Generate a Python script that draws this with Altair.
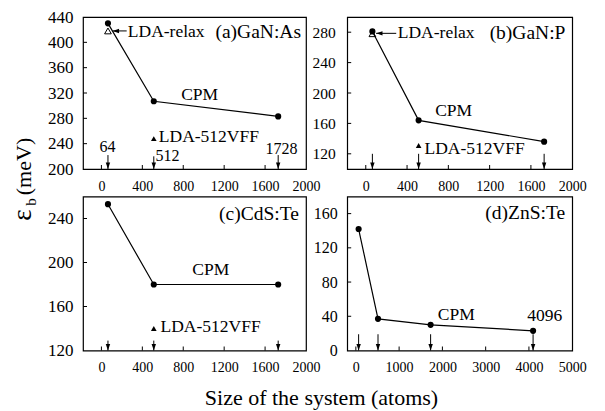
import altair as alt
import pandas as pd

FONT = "Liberation Serif, Times New Roman, Times, DejaVu Serif, serif"

# ---------------- data ----------------
sizes = [64, 512, 1728]
sizes_d = [64, 512, 1728, 4096]
cpm_a = [430, 307, 283]
cpm_b = [281, 164, 136]
cpm_c = [253, 180, 180]
cpm_d = [142, 37, 30, 23]
relax_size = [64]
relax_a = [418]
relax_b = [278]
vff_size = [512]
vff_a = [248]
vff_b = [131]
vff_c = [140]

# arrow markers (system sizes) and their top ends
arrow_a_x = [64, 512, 1728]
arrow_a_top = [222, 220, 222]
arrow_b_top = [120, 120, 120]
arrow_c_top = [129, 129, 129]
arrow_d_x = [64, 512, 1728, 4096]
arrow_d_top = [19, 19, 19, 19]

# annotation texts
texts_a = ["LDA-relax", "(a)GaN:As", "CPM", "LDA-512VFF", "64", "512", "1728"]
texts_a_x = [258, 1115, 780, 561, -19, 529, 1604]
texts_a_y = [417, 417, 317, 251, 235, 220, 232]
texts_a_fs = [17.5, 19.5, 17.5, 17.5, 16, 16, 16]

texts_b = ["LDA-relax", "(b)GaN:P", "CPM", "LDA-512VFF"]
texts_b_x = [310, 1200, 672, 569]
texts_b_y = [279, 279, 176, 126]
texts_b_fs = [17.5, 19.5, 17.5, 17.5]

texts_c = ["(c)CdS:Te", "CPM", "LDA-512VFF"]
texts_c_x = [1150, 888, 578]
texts_c_y = [244, 193, 141]
texts_c_fs = [19.5, 17.5, 17.5]

texts_d = ["(d)ZnS:Te", "CPM", "4096"]
texts_d_x = [2990, 1893, 3959]
texts_d_y = [161, 42, 40]
texts_d_fs = [19.5, 17.5, 17.5]

# pointer arrows for LDA-relax (tip x, tail x, y)
ptr_a = ([110], [247], [418])
ptr_b = ([100], [295], [278.5])

# axis values
xlab_abc = [0, 400, 800, 1200, 1600, 2000]
xtick_abc = [0, 400, 800, 1200, 1600]
xlab_d = [0, 1000, 2000, 3000, 4000, 5000]
xtick_d = [0, 1000, 2000, 3000, 4000]
ylab_a = [200, 240, 280, 320, 360, 400, 440]
ytick_a = [240, 280, 320, 360, 400]
ylab_b = [120, 160, 200, 240, 280]
ytick_b = [120, 160, 200, 240, 280]
ylab_c = [120, 160, 200, 240]
ytick_c = [160, 200, 240]
ylab_d = [0, 40, 80, 120, 160]
ytick_d = [40, 80, 120, 160]


def panel(xdom, ydom, w, h, xlab, xtick, ylab, ytick, ylfs, ylpad,
          cx, cy, arrows_x, arrows_top, tx, ty, tt, tfs,
          relax=None, vff=None, ptr=None, extra=()):
    xs = alt.Scale(domain=xdom, nice=False, zero=False)
    ys = alt.Scale(domain=ydom, nice=False, zero=False)
    xax = alt.Axis(
        values=xlab, title=None, grid=False, ticks=False, tickSize=0,
        domain=False, labelFont=FONT, labelFontSize=14,
        labelColor="black", labelPadding=10, labelFlush=False,
        labelOverlap=False, format="d")
    yax = alt.Axis(
        values=ylab, title=None, grid=False, ticks=False, tickSize=0,
        domain=False, labelFont=FONT, labelFontSize=ylfs,
        labelColor="black", labelPadding=ylpad, labelFlush=False,
        labelOverlap=False, format="d")

    def X(f="x"):
        return alt.X(f"{f}:Q", scale=xs, axis=xax)

    def Y(f="y"):
        return alt.Y(f"{f}:Q", scale=ys, axis=yax)

    cpm = pd.DataFrame({"x": cx, "y": cy})
    layers = []
    layers.append(alt.Chart(cpm).mark_line(color="black", strokeWidth=1.2).encode(
        x=X(), y=Y()))
    layers.append(alt.Chart(cpm).mark_point(
        shape="circle", filled=True, size=38, color="black", opacity=1
    ).encode(x=X(), y=Y()))
    if relax is not None:
        layers.append(alt.Chart(pd.DataFrame({"x": relax[0], "y": relax[1]})).mark_point(
            shape="triangle-up", filled=False, size=45, color="black",
            strokeWidth=1, opacity=1).encode(x=X(), y=Y()))
    if vff is not None:
        layers.append(alt.Chart(pd.DataFrame({"x": vff[0], "y": vff[1]})).mark_point(
            shape="triangle-up", filled=True, size=32, color="black",
            opacity=1).encode(x=X(), y=Y()))
    if ptr is not None:
        pdf = pd.DataFrame({"x": ptr[0], "x2": ptr[1], "y": ptr[2]})
        layers.append(alt.Chart(pdf).mark_rule(color="black", strokeWidth=1).encode(
            x=X(), x2="x2:Q", y=Y()))
        layers.append(alt.Chart(pdf).mark_point(
            shape="M0,0L1.6,-0.55L1.6,0.55Z", filled=True, size=64,
            color="black", opacity=1).encode(x=X(), y=Y()))
    adf = pd.DataFrame({"x": arrows_x, "top": arrows_top,
                        "bot": [ydom[0]] * len(arrows_x)})
    layers.append(alt.Chart(adf).mark_rule(color="black", strokeWidth=1).encode(
        x=X(), y=Y("top"), y2="bot:Q"))
    layers.append(alt.Chart(adf).mark_point(
        shape="M-0.55,-1.6L0.55,-1.6L0,0Z", filled=True, size=64,
        color="black", opacity=1).encode(x=X(), y=Y("bot")))
    # inside ticks
    layers.append(alt.Chart(pd.DataFrame({"t": xtick})).mark_rule(
        color="black", strokeWidth=1).encode(
        x=X("t"), y=alt.value(h), y2=alt.value(h - 4)))
    layers.append(alt.Chart(pd.DataFrame({"t": ytick})).mark_rule(
        color="black", strokeWidth=1).encode(
        y=Y("t"), x=alt.value(0), x2=alt.value(4)))
    tdf = pd.DataFrame({"x": tx, "y": ty, "t": tt, "fs": tfs})
    layers.append(alt.Chart(tdf).mark_text(
        align="left", baseline="middle", font=FONT, color="black").encode(
        x=X(), y=Y(), text="t:N",
        size=alt.Size("fs:Q", scale=None, legend=None)))
    layers.extend(extra)
    return alt.layer(*layers).properties(width=w, height=h)


# y-axis title pieces (placed relative to panel a)
ytitle = [
    alt.Chart(pd.DataFrame({"t": ["ε"]})).mark_text(
        font=FONT, fontSize=27, angle=270, align="center", baseline="middle",
        color="black").encode(text="t:N", x=alt.value(-60.5), y=alt.value(198)),
    alt.Chart(pd.DataFrame({"t": ["b"]})).mark_text(
        font=FONT, fontSize=15, angle=270, align="center", baseline="middle",
        color="black").encode(text="t:N", x=alt.value(-52.5), y=alt.value(185)),
    alt.Chart(pd.DataFrame({"t": ["(meV)"]})).mark_text(
        font=FONT, fontSize=22, angle=270, align="center", baseline="middle",
        color="black").encode(text="t:N", x=alt.value(-59), y=alt.value(149.5)),
]
xtitle = [
    alt.Chart(pd.DataFrame({"t": ["Size of the system (atoms)"]})).mark_text(
        font=FONT, fontSize=22, align="center", baseline="middle",
        color="black").encode(text="t:N", x=alt.value(238.5), y=alt.value(201)),
]

pa = panel([-180, 2000], [200, 440], 223, 152, xlab_abc, xtick_abc, ylab_a, ytick_a,
           17, 10, sizes, cpm_a, arrow_a_x, arrow_a_top,
           texts_a_x, texts_a_y, texts_a, texts_a_fs,
           relax=(relax_size, relax_a), vff=(vff_size, vff_a), ptr=ptr_a,
           extra=ytitle)
pb = panel([-180, 2000], [100, 300], 225, 152, xlab_abc, xtick_abc, ylab_b, ytick_b,
           15.5, 12, sizes, cpm_b, sizes, arrow_b_top,
           texts_b_x, texts_b_y, texts_b, texts_b_fs,
           relax=(relax_size, relax_b), vff=(vff_size, vff_b), ptr=ptr_b)
pc = panel([-180, 2000], [120, 260], 223, 154, xlab_abc, xtick_abc, ylab_c, ytick_c,
           17, 10, sizes, cpm_c, sizes, arrow_c_top,
           texts_c_x, texts_c_y, texts_c, texts_c_fs,
           vff=(vff_size, vff_c), extra=xtitle)
pd_ = panel([-200, 5000], [0, 180], 225, 154, xlab_d, xtick_d, ylab_d, ytick_d,
            16, 10, sizes_d, cpm_d, arrow_d_x, arrow_d_top,
            texts_d_x, texts_d_y, texts_d, texts_d_fs)

chart = alt.concat(
    pa, pb, pc, pd_, columns=2,
    spacing={"row": 27.5, "column": 41.2},
    bounds="flush", align="each",
).properties(
    padding={"left": -1, "top": -1, "right": 0, "bottom": 0},
    background="white",
).configure_view(stroke="black", strokeWidth=1.2)

chart.save("out.html", embed_options={"renderer": "svg", "actions": False})
